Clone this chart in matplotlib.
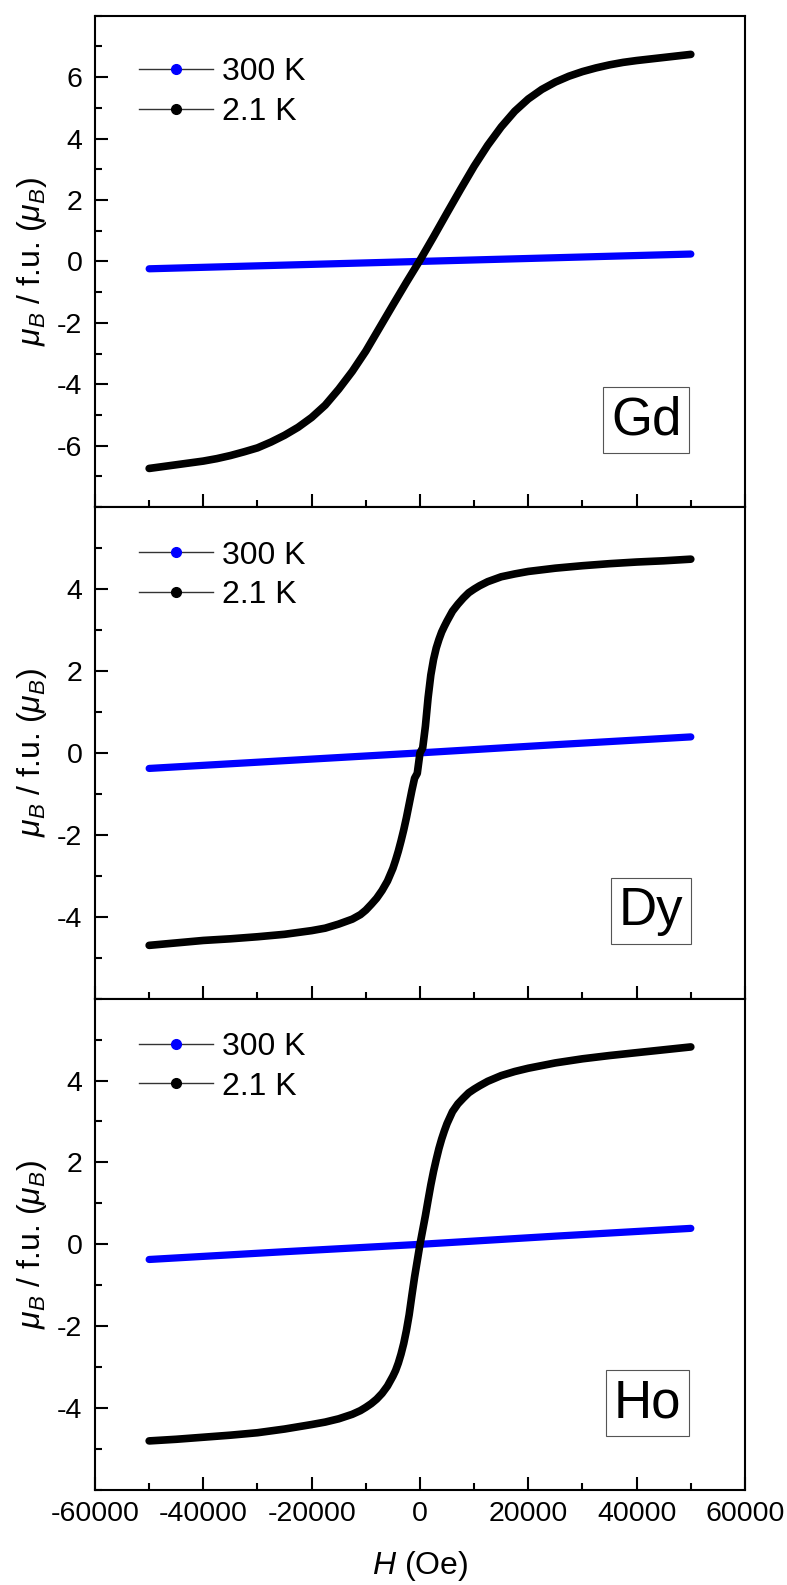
import matplotlib
matplotlib.use("Agg")
import matplotlib.pyplot as plt
from matplotlib.lines import Line2D
from matplotlib.ticker import MultipleLocator

plt.rcParams["font.family"] = ["Liberation Sans", "DejaVu Sans"]
plt.rcParams["mathtext.fontset"] = "custom"
plt.rcParams["mathtext.rm"] = "Liberation Sans"
plt.rcParams["mathtext.it"] = "Liberation Sans:italic"
plt.rcParams["axes.unicode_minus"] = False

# Field values (Oe) and moments (mu_B / f.u.)
blue_H = [-50000, -25000, 0, 25000, 50000]
gd_300 = [-0.24, -0.12, 0.0, 0.12, 0.24]
dy_300 = [-0.38, -0.19, 0.0, 0.20, 0.39]
ho_300 = [-0.37, -0.18, 0.0, 0.20, 0.39]

gd_H = [-50000, -47500, -45000, -42500, -40000, -37500, -35000, -32500,
        -30000, -27500, -25000, -22500, -20000, -17500, -15000, -12500,
        -10000, -7500, -5000, -2500, 0, 2500, 5000, 7500, 10000, 12500,
        15000, 17500, 20000, 22500, 25000, 27500, 30000, 32500, 35000,
        37500, 40000, 42500, 45000, 47500, 50000]
gd_2K = [-6.74, -6.68, -6.62, -6.56, -6.50, -6.42, -6.32, -6.20,
         -6.07, -5.88, -5.66, -5.40, -5.08, -4.68, -4.16, -3.58,
         -2.92, -2.17, -1.42, -0.68, 0.04, 0.80, 1.58, 2.35, 3.10, 3.78,
         4.38, 4.89, 5.29, 5.60, 5.84, 6.03, 6.18, 6.30, 6.40,
         6.48, 6.54, 6.59, 6.64, 6.69, 6.74]

re_H = [-50000, -45000, -40000, -35000, -30000, -25000, -20000, -17500,
        -15000, -12500, -11000, -10000, -9000, -8000, -7000, -6000, -5000,
        -4500, -4000, -3500, -3000, -2500, -2000, -1500, -1000, -500, 0,
        500, 1000, 1500, 2000, 2500, 3000, 3500, 4000, 4500, 5000, 6000,
        7000, 8000, 9000, 10000, 11000, 12500, 15000, 17500, 20000, 25000,
        30000, 35000, 40000, 45000, 50000]
dy_2K = [-4.70, -4.64, -4.58, -4.54, -4.49, -4.43, -4.34, -4.28,
         -4.18, -4.06, -3.95, -3.84, -3.70, -3.55, -3.36, -3.13, -2.82,
         -2.62, -2.40, -2.15, -1.88, -1.58, -1.25, -0.92, -0.62, -0.50, 0.0,
         0.12, 0.65, 1.35, 1.90, 2.28, 2.56, 2.77, 2.95, 3.09, 3.22, 3.46,
         3.63, 3.78, 3.91, 4.00, 4.08, 4.18, 4.30, 4.37, 4.43, 4.51,
         4.57, 4.62, 4.66, 4.69, 4.73]
ho_2K = [-4.80, -4.76, -4.71, -4.66, -4.60, -4.51, -4.40, -4.34,
         -4.26, -4.15, -4.06, -3.98, -3.89, -3.78, -3.64, -3.46, -3.22,
         -3.08, -2.90, -2.68, -2.42, -2.10, -1.72, -1.25, -0.80, -0.40, 0.0,
         0.35, 0.70, 1.08, 1.45, 1.78, 2.07, 2.34, 2.57, 2.77, 2.95, 3.24,
         3.43, 3.57, 3.70, 3.79, 3.87, 3.98, 4.12, 4.22, 4.30, 4.43,
         4.53, 4.61, 4.68, 4.75, 4.82]

panels = [
    ("Gd", gd_H, gd_2K, gd_300, 8, 0.848, 0.177, 0.915),
    ("Dy", re_H, dy_2K, dy_300, 6, 0.855, 0.178, 0.932),
    ("Ho", re_H, ho_2K, ho_300, 6, 0.850, 0.177, 0.932),
]

fig, axes = plt.subplots(3, 1, figsize=(7.87, 15.85), dpi=100, sharex=True)
fig.subplots_adjust(left=0.1207, right=0.9466, top=0.9901, bottom=0.0599, hspace=0)

for ax, (name, H, m_low, m_high, ylim, bx, by, ly) in zip(axes, panels):
    # 300 K first, 2.1 K drawn on top
    ax.plot(blue_H, m_high, color="#0000ff", lw=5.2, solid_capstyle="round")
    ax.plot(H, m_low, color="black", lw=5.5, solid_capstyle="round",
            solid_joinstyle="round")

    ax.set_xlim(-60000, 60000)
    ax.set_ylim(-ylim, ylim)
    ax.xaxis.set_major_locator(MultipleLocator(20000))
    ax.xaxis.set_minor_locator(MultipleLocator(10000))
    ax.set_yticks(list(range(-ylim + 2, ylim - 1, 2)))
    ax.yaxis.set_minor_locator(MultipleLocator(1))
    ax.tick_params(which="both", direction="in", width=1.5, labelsize=20.5)
    ax.tick_params(which="major", length=9.5)
    ax.tick_params(which="minor", length=5)
    ax.tick_params(axis="y", pad=9)
    ax.tick_params(axis="x", pad=8)
    for sp in ax.spines.values():
        sp.set_linewidth(1.5)

    ax.set_ylabel(r"$\mu_B$ / f.u. ($\mu_B$)", fontsize=23, labelpad=6)

    handles = [
        Line2D([], [], color="#333333", lw=1, marker="o", markersize=7,
               markerfacecolor="#0000ff", markeredgecolor="#0000ff"),
        Line2D([], [], color="#333333", lw=1, marker="o", markersize=7,
               markerfacecolor="black", markeredgecolor="black"),
    ]
    ax.legend(handles, ["300 K", "2.1 K"], loc="upper left",
              bbox_to_anchor=(0.068, ly), frameon=False, fontsize=23,
              handlelength=2.3, handletextpad=0.3, labelspacing=0.3,
              borderpad=0, borderaxespad=0)

    ax.text(bx, by, name, transform=ax.transAxes, fontsize=38,
            ha="center", va="center",
            bbox=dict(boxstyle="square,pad=0.15", facecolor="white",
                      edgecolor="#555555", linewidth=0.8))

axes[-1].set_xlabel(r"$H$ (Oe)", fontsize=23, labelpad=16)
fig.align_ylabels(axes)

fig.savefig("out.png", dpi=100)
